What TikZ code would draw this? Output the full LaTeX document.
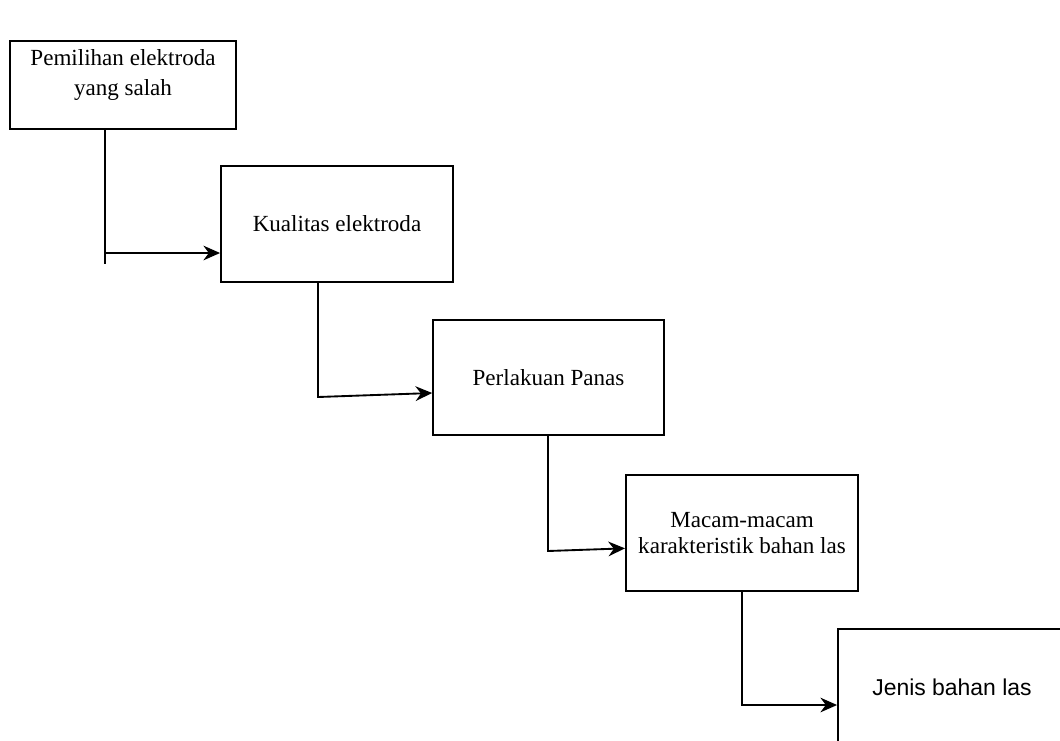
\documentclass[tikz,border=0pt]{standalone}
\usepackage{fontspec}
\setmainfont{Liberation Serif}
\newfontfamily\arialfont{Liberation Sans}
\usetikzlibrary{arrows.meta}
\tikzstyle{kotak}=[draw, line width=1.4pt, minimum width=174pt, minimum height=87pt, align=center, inner sep=0pt, font=\fontsize{17.3}{20}\selectfont]
\tikzstyle{panah}=[line width=1.4pt, -{Stealth[length=12.5pt, width=11pt]}]

\begin{document}
\begin{tikzpicture}[x=0.75pt, y=-0.75pt]
        % Frame
        \useasboundingbox (0,0) rectangle (1060,740);
        \clip (0,0) rectangle (1060,740);

        % Boxes
        \node[kotak, minimum width=169.5pt, minimum height=66pt, text depth=19pt, font=\fontsize{17.3}{23}\selectfont] (pemilihan) at (123,85) {Pemilihan elektroda\\yang salah};
        \node[kotak] (kualitas) at (337,224) {Kualitas elektroda};
        \node[kotak, minimum width=173pt, minimum height=86pt] (perlakuan) at (548.5,377.5) {Perlakuan Panas};
        \node[kotak] (macam) at (742,533) {Macam-macam\\karakteristik bahan las};
        \node[kotak, minimum width=171pt, font=\arialfont\fontsize{17.2}{20}\selectfont] (jenis) at (952,687) {Jenis bahan las};

        % Corner points
        \coordinate (ujung1) at (105,264);
        \coordinate (belok1) at (105,253);
        \coordinate (belok2) at (318,397);
        \coordinate (belok3) at (548,551);
        \coordinate (belok4) at (742,705);

        % Connectors
        \draw[line width=1.4pt] (pemilihan.south -| ujung1) -- (ujung1);
        \draw[panah] (belok1) -- (kualitas.west |- belok1);
        \draw[panah] (kualitas.south -| belok2) -- (belok2) -- ([yshift=3pt]perlakuan.west |- belok2);
        \draw[panah] (perlakuan.south -| belok3) -- (belok3) -- ([yshift=2pt]macam.west |- belok3);
        \draw[panah] (macam.south -| belok4) -- (belok4) -- (jenis.west |- belok4);
\end{tikzpicture}
\end{document}
